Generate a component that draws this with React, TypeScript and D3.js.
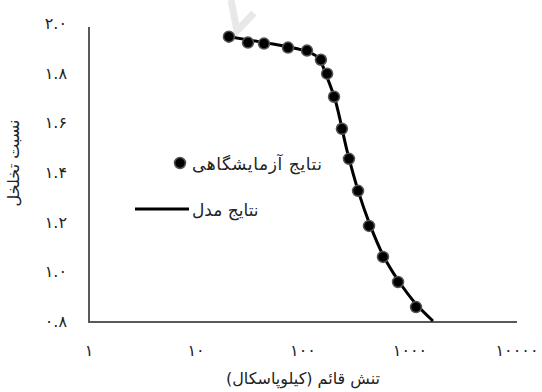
import React from 'react';
import * as d3 from 'd3';

// experimental points: vertical stress (kPa) vs void ratio
const labStress = [20.3, 30.6, 43.2, 72.4, 109, 147, 168, 195, 231, 269, 327, 414, 559, 773, 1138];
const labVoid = [1.945, 1.921, 1.917, 1.901, 1.889, 1.852, 1.796, 1.703, 1.574, 1.453, 1.324, 1.183, 1.058, 0.957, 0.856];

// model curve
const modelStress = [20.3, 45, 75, 110, 135, 150, 165, 200, 260, 330, 420, 560, 780, 1150, 1640];
const modelVoid = [1.945, 1.92, 1.903, 1.885, 1.865, 1.835, 1.79, 1.69, 1.48, 1.32, 1.19, 1.065, 0.962, 0.866, 0.8];

const yTicks = [0.8, 1.0, 1.2, 1.4, 1.6, 1.8, 2.0];
const xTicks = [1, 10, 100, 1000, 10000];

const faDigits = (s: string) => s.replace(/[0-9]/g, (c) => '۰۱۲۳۴۵۶۷۸۹'[+c]);

const FONT = '"DejaVu Sans", "Noto Sans", serif';

export default function App() {
  const width = 542, height = 392;
  const x = d3.scaleLog().domain([1, 10000]).range([89, 517]);
  const y = d3.scaleLinear().domain([0.8, 2.0]).range([321, 23]);

  const line = d3.line<[number, number]>()
    .x(d => x(d[0]))
    .y(d => y(d[1]))
    .curve(d3.curveCatmullRom.alpha(0.5));
  const modelPts: [number, number][] = modelStress.map((s, i) => [s, modelVoid[i]]);

  return (
    <svg width={width} height={height} style={{ position: 'absolute', left: 0, top: 0, background: '#fff' }}>
      {/* faint watermark */}
      <path d="M231,0 L237,31 L254,13" fill="none" stroke="#e8e8e8" strokeWidth={7} />

      {/* axes */}
      <line x1={x(1)} x2={x(1)} y1={27} y2={322} stroke="#595959" strokeWidth={2} />
      <line x1={x(1) - 1} x2={x(10000)} y1={322} y2={322} stroke="#595959" strokeWidth={2} />

      {yTicks.map(t => (
        <text key={t} x={67} y={y(t) + 6} fontSize={16} fontFamily={FONT} textAnchor="end" fill="#222">
          {faDigits(t.toFixed(1))}
        </text>
      ))}
      {xTicks.map(t => (
        <text key={t} x={x(t)} y={356} fontSize={16} fontFamily={FONT} textAnchor="middle" fill="#222" letterSpacing={1}>
          {faDigits(String(t))}
        </text>
      ))}

      <text x={303} y={384} fontSize={16} fontFamily={FONT} textAnchor="middle" fill="#222">
        تنش قائم (کیلوپاسکال)
      </text>
      <text transform="translate(19,163) rotate(-90)" fontSize={16} fontFamily={FONT} textAnchor="middle" fill="#222">
        نسبت تخلخل
      </text>

      {/* model line */}
      <path d={line(modelPts) || ''} fill="none" stroke="#000" strokeWidth={3} />

      {/* lab points */}
      {labStress.map((s, i) => (
        <circle key={i} cx={x(s)} cy={y(labVoid[i])} r={5.5} fill="#000" stroke="#555" strokeWidth={1.5} />
      ))}

      {/* legend */}
      <circle cx={180} cy={163} r={5.5} fill="#000" stroke="#555" strokeWidth={1.5} />
      <text x={192} y={170} fontSize={17} fontFamily={FONT} fill="#222" textLength={130}>نتایج آزمایشگاهی</text>
      <line x1={135} x2={189} y1={209} y2={209} stroke="#000" strokeWidth={3} />
      <text x={192} y={216} fontSize={17} fontFamily={FONT} fill="#222">نتایج مدل</text>
    </svg>
  );
}
